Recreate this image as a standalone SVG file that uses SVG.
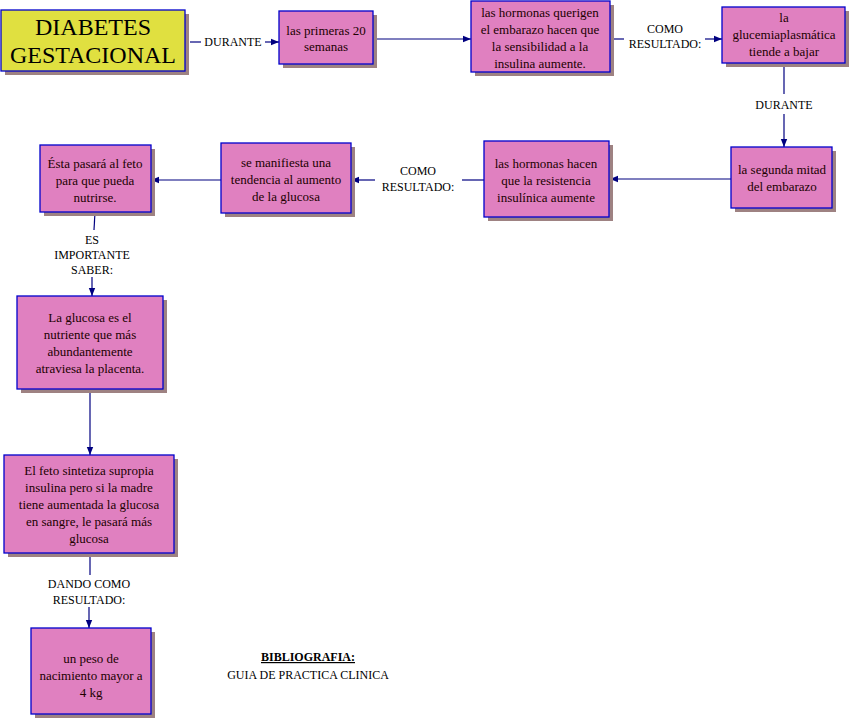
<svg xmlns="http://www.w3.org/2000/svg" width="851" height="722" viewBox="0 0 851 722">
<defs>
<marker id="a" viewBox="0 0 10 10" refX="10" refY="5" markerWidth="10" markerHeight="8" orient="auto" markerUnits="userSpaceOnUse"><path d="M0,1 L10,5 L0,9 Z" fill="#000080"/></marker>
</defs>
<style>
.s{fill:#9e8282}
.b{fill:#e080c0;stroke:#0000cc;stroke-width:1.3}
.y{fill:#e0e040;stroke:#0000cc;stroke-width:1.3}
text{font-family:"Liberation Serif",serif;font-size:13px;fill:#200000;text-anchor:middle}
.l{font-size:12px;fill:#000}
.c line,.c path{stroke:#000080;stroke-width:1.2;fill:none}
</style>
<rect width="851" height="722" fill="#fff"/>
<g class="c">
<line x1="190" y1="42" x2="201" y2="42"/><line x1="265" y1="42" x2="279" y2="42" marker-end="url(#a)"/>
<line x1="373" y1="39" x2="471" y2="39" marker-end="url(#a)"/>
<line x1="610" y1="39" x2="624" y2="39"/><line x1="705" y1="39" x2="722" y2="39" marker-end="url(#a)"/>
<line x1="784" y1="63" x2="784" y2="94"/><line x1="784" y1="114" x2="784" y2="147" marker-end="url(#a)"/>
<line x1="731" y1="179" x2="610" y2="179" marker-end="url(#a)"/>
<line x1="484" y1="180" x2="462" y2="180"/><line x1="375" y1="180" x2="351" y2="180" marker-end="url(#a)"/>
<line x1="221" y1="180" x2="151" y2="180" marker-end="url(#a)"/>
<line x1="95" y1="212" x2="94" y2="230"/><line x1="92" y1="277" x2="92" y2="296" marker-end="url(#a)"/>
<line x1="90" y1="389" x2="90" y2="455" marker-end="url(#a)"/>
<line x1="90" y1="553" x2="90" y2="575"/><line x1="89" y1="607" x2="89" y2="628" marker-end="url(#a)"/>
</g>
<g class="c"><text class="l" x="233" y="46">DURANTE</text>
<text class="l" x="665" y="33">COMO</text><text class="l" x="665" y="48">RESULTADO:</text>
<text class="l" x="784" y="109">DURANTE</text>
<text class="l" x="418" y="175">COMO</text><text class="l" x="418" y="191">RESULTADO:</text>
<text class="l" x="92" y="244">ES</text><text class="l" x="92" y="259">IMPORTANTE</text><text class="l" x="92" y="274">SABER:</text>
<text class="l" x="89" y="588">DANDO COMO</text><text class="l" x="89" y="604">RESULTADO:</text></g>
<g id="n1"><rect class="s" x="5" y="14" width="184" height="61"/><rect class="y" x="1" y="10" width="184" height="61"/><text x="93" y="35" style="font-size:24px;fill:#000">DIABETES</text><text x="93" y="63" style="font-size:24px;fill:#000">GESTACIONAL</text></g>
<g id="n2"><rect class="s" x="283" y="15" width="94" height="53"/><rect class="b" x="279" y="11" width="94" height="53"/><text x="326" y="35">las primeras 20</text><text x="326" y="51">semanas</text></g>
<g id="n3"><rect class="s" x="475" y="5" width="139" height="71"/><rect class="b" x="471" y="1" width="139" height="71"/><text x="540" y="17">las hormonas querigen</text><text x="540" y="34">el embarazo hacen que</text><text x="540" y="51">la sensibilidad a la</text><text x="540" y="68">insulina aumente.</text></g>
<g id="n4"><rect class="s" x="726" y="11" width="123" height="56"/><rect class="b" x="722" y="7" width="123" height="56"/><text x="784" y="22">la</text><text x="784" y="39">glucemiaplasmática</text><text x="784" y="56">tiende a bajar</text></g>
<g id="n5"><rect class="s" x="735" y="151" width="101" height="61"/><rect class="b" x="731" y="147" width="101" height="61"/><text x="782" y="174">la segunda mitad</text><text x="782" y="191">del embarazo</text></g>
<g id="n6"><rect class="s" x="488" y="145" width="125" height="76"/><rect class="b" x="484" y="141" width="125" height="76"/><text x="546" y="168">las hormonas hacen</text><text x="546" y="185">que la resistencia</text><text x="546" y="202">insulínica aumente</text></g>
<g id="n7"><rect class="s" x="225" y="147" width="130" height="70"/><rect class="b" x="221" y="143" width="130" height="70"/><text x="286" y="167">se manifiesta una</text><text x="286" y="184">tendencia al aumento</text><text x="286" y="201">de la glucosa</text></g>
<g id="n8"><rect class="s" x="44" y="149" width="111" height="67"/><rect class="b" x="40" y="145" width="111" height="67"/><text x="95" y="168">Ésta pasará al feto</text><text x="95" y="185">para que pueda</text><text x="95" y="202">nutrirse.</text></g>
<g id="n9"><rect class="s" x="21" y="300" width="146" height="93"/><rect class="b" x="17" y="296" width="146" height="93"/><text x="90" y="322">La glucosa es el</text><text x="90" y="339">nutriente que más</text><text x="90" y="356">abundantemente</text><text x="90" y="373">atraviesa la placenta.</text></g>
<g id="n10"><rect class="s" x="8" y="459" width="170" height="98"/><rect class="b" x="4" y="455" width="170" height="98"/><text x="89" y="475">El feto sintetiza supropia</text><text x="89" y="492">insulina pero si la madre</text><text x="89" y="509">tiene aumentada la glucosa</text><text x="89" y="526">en sangre, le pasará más</text><text x="89" y="543">glucosa</text></g>
<g id="n11"><rect class="s" x="35" y="632" width="120" height="86"/><rect class="b" x="31" y="628" width="120" height="86"/><text x="91" y="663">un peso de</text><text x="91" y="680">nacimiento mayor a</text><text x="91" y="697">4 kg</text></g>
<g id="bib"><text x="308" y="661" style="font-size:12px;font-weight:bold;text-decoration:underline;fill:#000">BIBLIOGRAFIA:</text><text x="308" y="679" style="font-size:12px;fill:#000">GUIA DE PRACTICA CLINICA</text></g>
</svg>
